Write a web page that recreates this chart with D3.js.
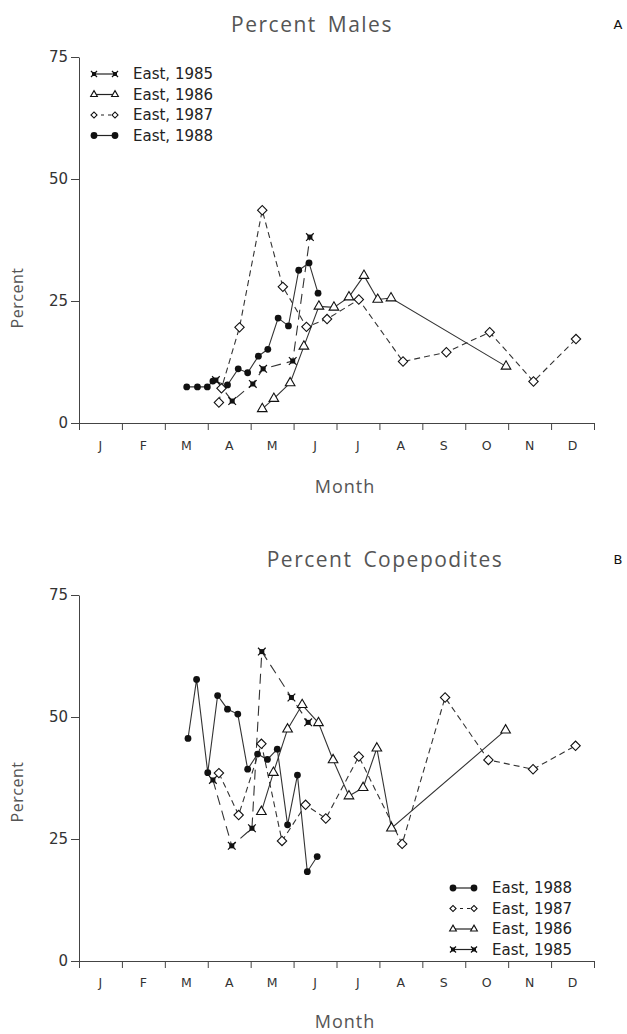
<!DOCTYPE html>
<html>
<head>
<meta charset="utf-8">
<script src="https://cdn.jsdelivr.net/npm/d3@7"></script>
<style>
  body { margin: 0; background: #fff; }
  svg { display: block; }
</style>
</head>
<body>
<div id="chart"></div>
<script>
// month axis labels (ticks sit on month boundaries, labels in between)
const monthLabels = ["J", "F", "M", "A", "M", "J", "J", "A", "S", "O", "N", "D"];
const yTickValues = [0, 25, 50, 75];

// Panel A - percent males (x = fractional month, 0 = 1 Jan)
const males1985Month = [3.19, 3.57, 4.05, 4.29, 4.98, 5.38];
const males1985Value = [8.8, 4.5, 8.0, 11.1, 12.7, 38.1];
const males1986Month = [4.27, 4.54, 4.92, 5.24, 5.59, 5.94, 6.29, 6.64, 6.96, 7.27, 9.95];
const males1986Value = [2.9, 5.0, 8.2, 15.7, 23.9, 23.7, 25.8, 30.2, 25.3, 25.6, 11.6];
const males1987Month = [3.26, 3.32, 3.74, 4.27, 4.75, 5.30, 5.78, 6.52, 7.55, 8.56, 9.57, 10.59, 11.58];
const males1987Value = [4.2, 7.1, 19.6, 43.6, 27.9, 19.7, 21.3, 25.3, 12.6, 14.5, 18.6, 8.5, 17.2];
const males1988Month = [2.51, 2.76, 2.99, 3.12, 3.46, 3.71, 3.93, 4.18, 4.40, 4.64, 4.88, 5.12, 5.36, 5.57];
const males1988Value = [7.4, 7.4, 7.4, 8.6, 7.8, 11.1, 10.3, 13.7, 15.1, 21.5, 19.9, 31.3, 32.8, 26.6];

// Panel B - percent copepodites
const cope1985Month = [3.12, 3.56, 4.03, 4.26, 4.95, 5.34];
const cope1985Value = [37.1, 23.6, 27.2, 63.4, 54.0, 48.9];
const cope1986Month = [4.25, 4.53, 4.86, 5.20, 5.58, 5.92, 6.29, 6.62, 6.94, 7.28, 9.94];
const cope1986Value = [30.6, 38.6, 47.5, 52.5, 48.8, 41.2, 33.8, 35.5, 43.6, 27.2, 47.3];
const cope1987Month = [3.26, 3.72, 4.25, 4.73, 5.28, 5.75, 6.52, 7.53, 8.53, 9.54, 10.58, 11.57];
const cope1987Value = [38.5, 29.9, 44.5, 24.6, 32.0, 29.2, 41.9, 24.0, 54.0, 41.2, 39.3, 44.1];
const cope1988Month = [2.54, 2.74, 3.00, 3.23, 3.46, 3.70, 3.93, 4.16, 4.39, 4.62, 4.86, 5.09, 5.32, 5.55];
const cope1988Value = [45.6, 57.7, 38.6, 54.4, 51.6, 50.6, 39.3, 42.4, 41.3, 43.4, 27.9, 38.1, 18.3, 21.4];

const legendOrderA = ["1985", "1986", "1987", "1988"];
const legendOrderB = ["1988", "1987", "1986", "1985"];

const width = 627, height = 1034;
const tickFont = "'DejaVu Sans', 'Liberation Sans', sans-serif";
const titleFont = "'Open Sans', 'Lato', 'DejaVu Sans', sans-serif";

// line + marker style per year
const styles = {
    "1985": { dash: "10,6", marker: "star", legendK: 0.8 },
    "1986": { dash: null, marker: "triangle", legendK: 0.7 },
    "1987": { dash: "6,4", marker: "diamond", legendK: 0.65 },
    "1988": { dash: null, marker: "circle", legendK: 1 }
};

const svg = d3.select("#chart").append("svg")
    .attr("width", width)
    .attr("height", height)
    .attr("viewBox", `0 0 ${width} ${height}`);

function zip(months, values) {
    return months.map((m, i) => ({ m: m, v: values[i] }));
}

function drawMarker(g, type, x, y, scale) {
    const k = scale || 1;
    if (type === "circle") {
        g.append("circle").attr("cx", x).attr("cy", y).attr("r", 3.4 * k)
            .attr("fill", "#111");
    } else if (type === "triangle") {
        g.append("path")
            .attr("d", d3.symbol(d3.symbolTriangle, 40 * k * k)())
            .attr("transform", `translate(${x},${y})`)
            .attr("fill", "#fff").attr("stroke", "#111").attr("stroke-width", 1.1);
    } else if (type === "diamond") {
        g.append("path")
            .attr("d", d3.symbol(d3.symbolSquare, 44 * k * k)())
            .attr("transform", `translate(${x},${y}) rotate(45)`)
            .attr("fill", "#fff").attr("stroke", "#111").attr("stroke-width", 1.1);
    } else if (type === "star") {
        g.append("path")
            .attr("d", d3.symbol(d3.symbolX, 40 * k * k)())
            .attr("transform", `translate(${x},${y})`)
            .attr("fill", "none").attr("stroke", "#111").attr("stroke-width", 1.2);
        g.append("rect")
            .attr("x", x - 2.5 * k).attr("y", y - 2.5 * k)
            .attr("width", 5 * k).attr("height", 5 * k)
            .attr("fill", "#111");
    }
}

function drawPanel(cfg) {
    const x = d3.scaleLinear().domain([0, 12]).range([79, 594]);
    const y = d3.scaleLinear().domain([0, 75]).range([cfg.y0, cfg.y75]);
    const g = svg.append("g");

    // y axis
    const yAxis = g.append("g")
        .attr("transform", `translate(${x(0)},0)`)
        .call(d3.axisLeft(y).tickValues(yTickValues).tickSize(8).tickSizeOuter(0).tickPadding(3));
    yAxis.select(".domain").attr("stroke", "#444");
    yAxis.selectAll(".tick line").attr("stroke", "#444");
    yAxis.selectAll(".tick text")
        .style("font-family", tickFont).style("font-size", "15px").attr("fill", "#333");

    // x axis: ticks on month boundaries, labels centred in months
    const xAxis = g.append("g")
        .attr("transform", `translate(0,${y(0)})`)
        .call(d3.axisBottom(x).tickValues(d3.range(0, 13)).tickSize(7).tickSizeOuter(0).tickFormat(""));
    xAxis.select(".domain").attr("stroke", "#444");
    xAxis.selectAll(".tick line").attr("stroke", "#444");

    g.selectAll(".month-label")
        .data(monthLabels)
        .enter().append("text")
        .attr("class", "month-label")
        .attr("x", (d, i) => x(i + 0.5))
        .attr("y", y(0) + cfg.monthDy)
        .attr("text-anchor", "middle")
        .style("font-family", tickFont)
        .style("font-size", "12.5px")
        .attr("fill", "#333")
        .text(d => d);

    // axis titles
    g.append("text")
        .attr("x", 345).attr("y", y(0) + cfg.titleDy)
        .attr("text-anchor", "middle")
        .style("font-family", titleFont).style("font-size", "18px")
        .style("letter-spacing", "1px")
        .attr("fill", "#555")
        .text("Month");
    g.append("text")
        .attr("transform", `translate(23,${cfg.yLabelY}) rotate(-90)`)
        .attr("text-anchor", "middle")
        .style("font-family", titleFont).style("font-size", "16px")
        .style("letter-spacing", "0.5px")
        .attr("fill", "#555")
        .text("Percent");

    // panel title + letter
    g.append("text")
        .attr("x", cfg.titleX).attr("y", cfg.titleY)
        .attr("text-anchor", "middle")
        .style("font-family", titleFont).style("font-size", "21px")
        .style("letter-spacing", "1.5px").style("word-spacing", "4px")
        .attr("fill", "#555")
        .text(cfg.title);
    g.append("text")
        .attr("x", 618).attr("y", cfg.titleY - 3)
        .attr("text-anchor", "middle")
        .style("font-family", tickFont).style("font-size", "13px")
        .attr("fill", "#111")
        .text(cfg.letter);

    // series lines
    const line = d3.line().x(d => x(d.m)).y(d => y(d.v));
    cfg.series.forEach(s => {
        g.append("path")
            .datum(s.data)
            .attr("fill", "none")
            .attr("stroke", "#333")
            .attr("stroke-width", 1.1)
            .attr("stroke-dasharray", styles[s.year].dash)
            .attr("d", line);
    });
    // markers on top
    cfg.series.forEach(s => {
        s.data.forEach(d => drawMarker(g, styles[s.year].marker, x(d.m), y(d.v)));
    });

    // legend
    cfg.legendOrder.forEach((yr, i) => {
        const ly = cfg.legendY + i * 20.5;
        const st = styles[yr];
        g.append("line")
            .attr("x1", cfg.legendX).attr("x2", cfg.legendX + 21)
            .attr("y1", ly).attr("y2", ly)
            .attr("stroke", "#222").attr("stroke-width", 1.2)
            .attr("stroke-dasharray", yr === "1987" ? "3,4" : null);
        drawMarker(g, st.marker, cfg.legendX, ly, st.legendK);
        drawMarker(g, st.marker, cfg.legendX + 21, ly, st.legendK);
        g.append("text")
            .attr("x", cfg.legendX + 39).attr("y", ly)
            .attr("dominant-baseline", "central")
            .style("font-family", tickFont).style("font-size", "15px")
            .attr("fill", "#222")
            .text("East, " + yr);
    });
}

drawPanel({
    title: "Percent Males", letter: "A",
    titleX: 312, titleY: 32,
    y0: 423, y75: 57,
    monthDy: 27, titleDy: 70, yLabelY: 298,
    legendX: 94, legendY: 74, legendOrder: legendOrderA,
    series: [
        { year: "1985", data: zip(males1985Month, males1985Value) },
        { year: "1986", data: zip(males1986Month, males1986Value) },
        { year: "1987", data: zip(males1987Month, males1987Value) },
        { year: "1988", data: zip(males1988Month, males1988Value) }
    ]
});

drawPanel({
    title: "Percent Copepodites", letter: "B",
    titleX: 385, titleY: 567,
    y0: 961, y75: 595,
    monthDy: 26, titleDy: 67, yLabelY: 792,
    legendX: 453, legendY: 888, legendOrder: legendOrderB,
    series: [
        { year: "1985", data: zip(cope1985Month, cope1985Value) },
        { year: "1986", data: zip(cope1986Month, cope1986Value) },
        { year: "1987", data: zip(cope1987Month, cope1987Value) },
        { year: "1988", data: zip(cope1988Month, cope1988Value) }
    ]
});
</script>
</body>
</html>
